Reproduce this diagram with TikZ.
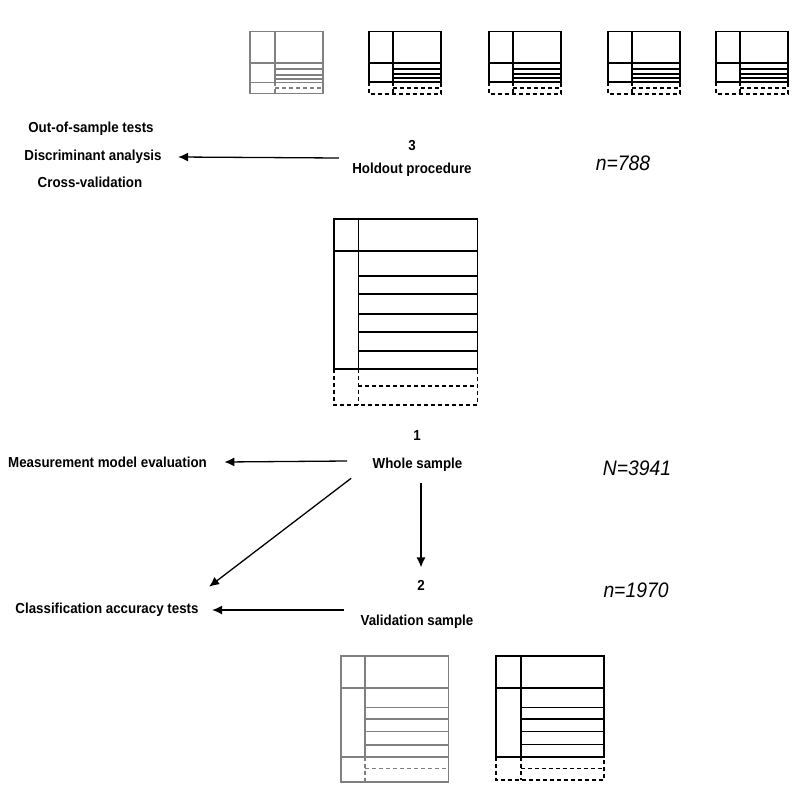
\documentclass[tikz,border=0pt]{standalone}
\usepackage{fontspec}
\setmainfont[FakeStretch=0.92]{Liberation Sans}
\usepackage{xcolor}
\usepackage{tikz}
\usetikzlibrary{arrows.meta,positioning}
\definecolor{tablegray}{RGB}{128,128,128}

\begin{document}
\begin{tikzpicture}[x=1pt, y=-1pt, every node/.style={font=\fontsize{14.5}{16}\selectfont\bfseries},
    grid/.style={line width=1.6pt}, dashline/.style={dash pattern=on 4pt off 3pt},
    arr/.style={-{Latex[length=10pt,width=9pt]}, line width=1.3pt},
    count/.style={font=\fontsize{21}{24}\selectfont\itshape}]
    \useasboundingbox (0,0) rectangle (800,800);

    % holdout samples
    \draw[grid, tablegray] (250,31.7) rectangle (322.7,93.3);
    \draw[grid, tablegray] (250,63.3) -- (322.7,63.3) (250,82.3) -- (322.7,82.3) (275,31.7) -- (275,82.3);
    \foreach \y in {69.3,75,79} \draw[grid, tablegray] (275,\y) -- (322.7,\y);
    \draw[grid, tablegray, dashline] (275,82.3) -- (275,93.3) (275,87.7) -- (322.7,87.7);
    \foreach \x in {369,489,608,716} {
        \draw[grid] (\x,31.7) rectangle ++(72,50);
        \draw[grid] (\x,63.3) -- ++(72,0) (\x+24,31.7) -- (\x+24,81.7);
        \foreach \y in {69.3,73.7,77.7} \draw[grid] (\x+24,\y) -- (\x+72,\y);
        \draw[grid, dashline] (\x,81.7) rectangle (\x+72,94) (\x+24,81.7) -- (\x+24,94) (\x+24,87.7) -- (\x+72,87.7);
    }

    % whole sample
    \draw[grid] (334,219) rectangle (477.3,369);
    \draw[grid] (334,251) -- (477.3,251) (358.3,219) -- (358.3,369);
    \foreach \y in {276,294,313.7,332,351} \draw[grid] (358.3,\y) -- (477.3,\y);
    \draw[grid, dashline] (334,369) rectangle (477.3,405) (358.3,369) -- (358.3,405) (358.3,386) -- (477.3,386);

    % validation samples
    \draw[grid, tablegray] (341,656) rectangle (448.3,781.7);
    \draw[grid, tablegray] (341,687.7) -- (448.3,687.7) (341,756.7) -- (448.3,756.7) (365,656) -- (365,756.7);
    \foreach \y in {707.3,718.7,731.3,745} \draw[grid, tablegray] (365,\y) -- (448.3,\y);
    \draw[grid, tablegray, dashline] (365,756.7) -- (365,781.7) (365,768.3) -- (448.3,768.3);
    \draw[grid] (496,656) rectangle (604,756.7);
    \draw[grid] (496,687.7) -- (604,687.7) (520.7,656) -- (520.7,756.7);
    \foreach \y in {707.3,718.7,731.3,744.3} \draw[grid] (520.7,\y) -- (604,\y);
    \draw[grid, dashline] (496,756.7) rectangle (604,780) (520.7,756.7) -- (520.7,780) (520.7,768.3) -- (604,768.3);

    % labels
    \node (num3) at (412,146) {3};
    \node (holdout) at (412,170) {Holdout procedure};
    \node (oos) at (91,129) {Out-of-sample tests};
    \node (discr) at (93,157) {Discriminant analysis};
    \node (cross) at (90,182) {Cross-validation};
    \node[count] (n788) at (623,163) {n=788};

    \node (num1) at (417,436) {1};
    \node (whole) at (417.5,465) {Whole sample};
    \node (meas) at (107.5,462) {Measurement model evaluation};
    \node[count] (n3941) at (637,468) {N=3941};

    \node (num2) at (421,585) {2};
    \node (valid) at (417,622) {Validation sample};
    \node (class) at (107,610) {Classification accuracy tests};
    \node[count] (n1970) at (636,590) {n=1970};

    % arrows
    \draw[arr] ([xshift=-10pt,yshift=12pt]holdout.west) -- ([xshift=13pt]discr.east);
    \draw[arr] ([xshift=-22pt,yshift=4pt]whole.west) -- ([xshift=14pt]meas.east);
    \draw[arr] ([xshift=-18pt,yshift=-3pt]whole.south west) -- ([xshift=7pt,yshift=13pt]class.north east);
    \draw[arr, shorten <=8pt, shorten >=9pt] (whole.south -| num2.north) -- (num2.north);
    \draw[arr] ([xshift=-13pt,yshift=12pt]valid.west) -- ([xshift=10pt]class.east);
\end{tikzpicture}
\end{document}
